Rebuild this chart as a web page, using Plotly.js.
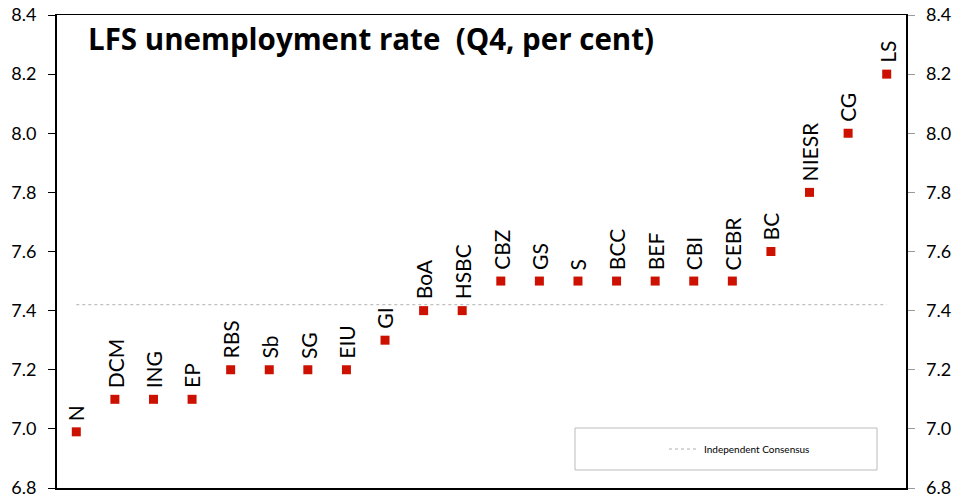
<!DOCTYPE html>
<html>
<head>
<meta charset="utf-8">
<script src="https://cdn.plot.ly/plotly-3.0.1.min.js"></script>
<style>html,body{margin:0;padding:0;background:#fff;}#chart{width:954px;height:502px;}</style>
</head>
<body>
<div id="chart"></div>
<script>
// ---- data ----
const forecasters = ["N","DCM","ING","EP","RBS","Sb","SG","EIU","GI","BoA","HSBC","CBZ","GS","S","BCC","BEF","CBI","CEBR","BC","NIESR","CG","LS"];
const rates = [6.99,7.1,7.1,7.1,7.2,7.2,7.2,7.2,7.3,7.4,7.4,7.5,7.5,7.5,7.5,7.5,7.5,7.5,7.6,7.8,8.0,8.2];
const consensusValue = 7.42;
const consensusName = "Independent Consensus";
const titleText = "LFS unemployment rate  (Q4, per cent)";
const yTicks = [6.8,7.0,7.2,7.4,7.6,7.8,8.0,8.2,8.4];

const FONT = "Lato, 'Open Sans', 'DejaVu Sans', sans-serif";
const TITLE_FONT = "'Open Sans', Lato, sans-serif";

const points = {
  x: forecasters, y: rates, type: "scatter", mode: "markers",
  marker: {symbol: "square", size: 9, color: "#cc1100"},
  showlegend: false, hoverinfo: "x+y"
};
const consensus = {
  x: [forecasters[0], forecasters[forecasters.length-1]],
  y: [consensusValue, consensusValue],
  type: "scatter", mode: "lines", name: consensusName,
  line: {color: "#b0b0b0", width: 1, dash: "dot"},
  yaxis: "y2"
};

const annotations = forecasters.map((f, i) => ({
  x: f, y: rates[i], xref: "x", yref: "y",
  text: f, showarrow: false, textangle: -90,
  yanchor: "bottom", xanchor: "center", yshift: 9,
  font: {family: FONT, size: 21, color: "#000"}
}));

const layout = {
  width: 954, height: 502,
  margin: {l: 57, r: 48, t: 15, b: 14},
  paper_bgcolor: "#fff", plot_bgcolor: "#fff",
  font: {family: FONT, color: "#000"},
  title: {
    text: "<b>" + titleText + "</b>",
    xref: "container", yref: "container",
    x: 88/954, xanchor: "left", y: 1 - 40/502, yanchor: "middle",
    font: {family: TITLE_FONT, size: 29.5, color: "#000", weight: 800}
  },
  xaxis: {
    type: "category", categoryorder: "array", categoryarray: forecasters,
    range: [-0.5, forecasters.length - 0.5],
    showticklabels: false, ticks: "", showgrid: false, zeroline: false,
    showline: true, linecolor: "#000", linewidth: 1.5, mirror: true
  },
  yaxis: {
    range: [6.8, 8.4], tickvals: yTicks, tickformat: ".1f",
    ticks: "outside", ticklen: 7, tickcolor: "#000", tickwidth: 1,
    showgrid: false, zeroline: false,
    showline: true, linecolor: "#000", linewidth: 2,
    ticklabelstandoff: 8,
    tickfont: {family: FONT, size: 18, color: "#000"}
  },
  yaxis2: {
    range: [6.8, 8.4], tickvals: yTicks, tickformat: ".1f",
    overlaying: "y", side: "right",
    ticks: "outside", ticklen: 7, tickcolor: "#999", tickwidth: 1,
    showgrid: false, zeroline: false,
    showline: true, linecolor: "#000", linewidth: 1.5,
    ticklabelstandoff: 8,
    tickfont: {family: FONT, size: 18, color: "#000"}
  },
  showlegend: true,
  legend: {
    x: (664-57)/849, xanchor: "left", y: (488-449)/473, yanchor: "middle",
    bgcolor: "rgba(0,0,0,0)", borderwidth: 0,
    font: {family: FONT, size: 10, color: "#000"}
  },
  shapes: [{
    type: "rect", xref: "paper", yref: "paper",
    x0: (575-57)/849, x1: (877-57)/849, y0: (488-470)/473, y1: (488-428)/473,
    line: {color: "#bbbbbb", width: 1}, fillcolor: "rgba(0,0,0,0)"
  }],
  annotations: annotations
};

Plotly.newPlot("chart", [points, consensus], layout, {displayModeBar: false, staticPlot: true});
</script>
</body>
</html>
